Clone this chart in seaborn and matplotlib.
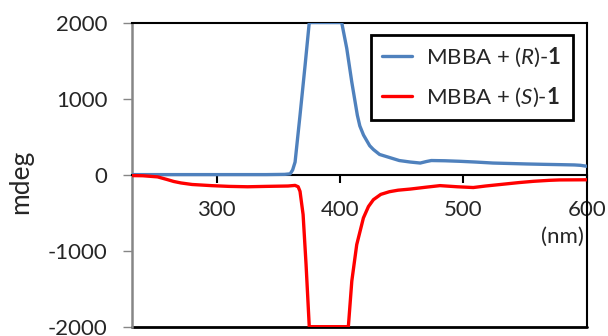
import matplotlib
matplotlib.use('Agg')
import matplotlib.pyplot as plt
import seaborn as sns

# CD spectra (nm, mdeg); values clipped at +/-2000 by the axis
wl_r = [231, 250, 300, 340, 355, 359.5, 361.5, 363.5, 367.5, 371.6, 375, 401.3, 405.4,
        409.5, 414, 416, 419, 424, 427, 432, 439, 448, 457, 465, 470, 474, 485, 497,
        510, 524, 540, 551, 565, 578, 590, 595, 600]
cd_r = [0, 0, 0, 0, 3, 10, 60, 165, 780, 1435, 2000, 2000, 1660,
        1215, 780, 640, 520, 380, 330, 265, 230, 185, 165, 152, 172, 185, 182, 175,
        165, 152, 145, 140, 135, 131, 127, 122, 110]

wl_s = [231, 240, 252, 260, 265, 271, 280, 295.6, 310, 325, 340, 357.8, 363.5, 366,
        367.5, 370, 372.4, 375, 406.7, 409.5, 413.5, 418.9, 423, 427, 433, 440, 447,
        457, 470, 481, 495, 508, 518, 530, 545, 557, 570, 578, 600]
cd_s = [-13, -15, -30, -66, -90, -110, -130, -145, -155, -160, -155, -150, -142, -160,
        -220, -525, -1182, -2000, -2000, -1400, -920, -570, -420, -330, -260, -225, -205,
        -190, -165, -145, -160, -170, -150, -130, -105, -88, -75, -70, -68]

label_r = 'MBBA + ($\\mathit{R}$)-$\\mathbf{1}$'
label_s = 'MBBA + ($\\mathit{S}$)-$\\mathbf{1}$'
x_ticks = [300, 400, 500, 600]
y_ticks = [-2000, -1000, 0, 1000, 2000]

sns.set_style('white')
plt.rcParams['font.family'] = ['Lato', 'DejaVu Sans']
plt.rcParams['mathtext.fontset'] = 'custom'
plt.rcParams['mathtext.rm'] = 'Lato'
plt.rcParams['mathtext.it'] = 'Lato:italic'
plt.rcParams['mathtext.bf'] = 'Lato:bold'
plt.rcParams['axes.unicode_minus'] = False

fig = plt.figure(figsize=(6.08, 3.36), dpi=100)
ax = fig.add_axes([0.2166, 0.0277, 0.7484, 0.9053])

sns.lineplot(x=wl_r, y=cd_r, color='#4F81BD', lw=2.4, label=label_r, ax=ax, zorder=3)
sns.lineplot(x=wl_s, y=cd_s, color='#FF0000', lw=2.4, label=label_s, ax=ax, zorder=3)

ax.set_xlim(231, 600)
ax.set_ylim(-2000, 2000)
ax.set_xticks(x_ticks)
ax.set_yticks(y_ticks)

# x axis sits on zero, frame closed at the bottom by a plain line
ax.spines['bottom'].set_position(('data', 0))
ax.spines['bottom'].set_color('black')
ax.spines['bottom'].set_linewidth(1.5)
ax.axhline(-2000, color='black', lw=2, clip_on=False, zorder=2.5)
for s in ['top', 'right']:
    ax.spines[s].set_color('black')
    ax.spines[s].set_linewidth(1.5)
ax.spines['left'].set_color('#868686')
ax.spines['left'].set_linewidth(1.8)

fs = 16
ax.tick_params(axis='x', bottom=True, direction='out', length=6, width=1.5,
               color='black', pad=12, labelsize=fs)
ax.tick_params(axis='y', left=True, direction='out', length=6.5, width=1,
               color='#868686', pad=11, labelsize=fs)
ax.set_xlabel('')
ax.set_ylabel('')

fig.text(0.034, 0.46, 'mdeg', rotation=90, ha='center', va='center', fontsize=19)
ax.text(0.994, 0.295, '(nm)', transform=ax.transAxes, ha='right', va='center', fontsize=fs)

leg = ax.legend(loc='upper right', bbox_to_anchor=(0.969, 0.959), borderaxespad=0,
                frameon=True, fancybox=False, edgecolor='black', framealpha=1,
                fontsize=fs, handlelength=1.35, handletextpad=0.65,
                labelspacing=0.75, borderpad=0.5)
leg.get_frame().set_linewidth(2)

fig.savefig('out.png', dpi=100)
